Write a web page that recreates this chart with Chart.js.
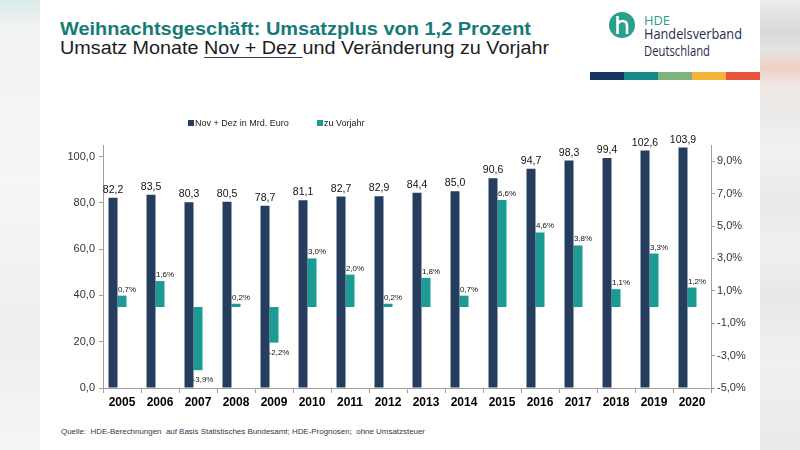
<!DOCTYPE html>
<html>
<head>
<meta charset="utf-8">
<script src="https://cdn.jsdelivr.net/npm/chart.js@4.4.1/dist/chart.umd.min.js"></script>
<style>
  html, body { margin: 0; padding: 0; width: 800px; height: 450px; overflow: hidden; background: #fff; }
  #wrap { position: relative; width: 800px; height: 450px; font-family: "Liberation Sans", Arial, sans-serif; }
  .edge-l { position: absolute; left: 0; top: 0; width: 40px; height: 450px;
    background: linear-gradient(180deg, #d9ebe9 0%, #f2f2f2 6%, #f6f6f6 40%, #eeeeee 75%, #f5f5f5 100%); }
  .edge-r { position: absolute; left: 760px; top: 0; width: 40px; height: 450px;
    background: linear-gradient(180deg, #ececec 0%, #d9d9d9 7%, #e4e4e4 11%, #f0cfc6 15%, #f1e7e4 19%, #ebebeb 26%, #f1f1f1 34%, #e9e9e9 45%, #f0f0f0 55%, #e8e8e8 66%, #f0f0f0 80%, #eaeaea 100%); }
  .txt { position: absolute; white-space: nowrap; line-height: 1; transform-origin: 0 50%; }
  #title { left: 60px; top: 20px; font-size: 18px; font-weight: bold; color: #167b77; }
  #sub { left: 60px; top: 39px; font-size: 18.5px; color: #1c1c24; }
  #sub span { text-decoration: underline; text-decoration-color: #2f3e55; text-underline-offset: 3px; }
  #hde { left: 644px; top: 15px; font-size: 12px; color: #25a08e; font-family: "Open Sans", sans-serif; }
  #hv { left: 644px; top: 27px; font-size: 14px; color: #1f2d4a; font-family: "Open Sans", sans-serif; }
  #dl { left: 644px; top: 44px; font-size: 14px; color: #1f2d4a; font-family: "Open Sans", sans-serif; }
  #src { left: 61px; top: 428px; font-size: 8px; color: #2d3a4f; }
  .stripe { position: absolute; top: 72px; height: 8px; width: 34px; }
  #logo { position: absolute; left: 608px; top: 11px; }
  canvas { position: absolute; left: 0; top: 0; }
</style>
</head>
<body>
<div id="wrap">
  <div class="edge-l"></div>
  <div class="edge-r"></div>
  <div id="title" class="txt" data-w="471">Weihnachtsgeschäft: Umsatzplus von 1,2 Prozent</div>
  <div id="sub" class="txt" data-w="489">Umsatz Monate <span>Nov + Dez </span>und Veränderung zu Vorjahr</div>
  <svg id="logo" width="28" height="28" viewBox="0 0 28 28">
    <circle cx="14" cy="14" r="13" fill="#27a08e"/>
    <path d="M9.5 5 V23 M9.5 15 Q9.5 10 14.5 10 Q19 10 19 15 V23" stroke="#fff" stroke-width="2.6" fill="none"/>
  </svg>
  <div id="hde" class="txt" data-w="26">HDE</div>
  <div id="hv" class="txt" data-w="98">Handelsverband</div>
  <div id="dl" class="txt" data-w="66">Deutschland</div>
  <div class="stripe" style="left:590px;background:#17365e"></div>
  <div class="stripe" style="left:624px;background:#16888a"></div>
  <div class="stripe" style="left:658px;background:#7db47c"></div>
  <div class="stripe" style="left:692px;background:#f5b53c"></div>
  <div class="stripe" style="left:726px;background:#e6553a"></div>
  <div id="src" class="txt" data-w="364">Quelle:&nbsp; HDE-Berechnungen&nbsp; auf Basis Statistisches Bundesamt; HDE-Prognosen;&nbsp; ohne Umsatzsteuer</div>
  <canvas id="chart" width="800" height="450"></canvas>
</div>
<script>
// data
const years = ['2005', '2006', '2007', '2008', '2009', '2010', '2011', '2012',
  '2013', '2014', '2015', '2016', '2017', '2018', '2019', '2020'];
const umsatz = [82.2, 83.5, 80.3, 80.5, 78.7, 81.1, 82.7, 82.9, 84.4, 85.0, 90.6, 94.7, 98.3, 99.4, 102.6, 103.9];
const vorjahr = [0.7, 1.6, -3.9, 0.2, -2.2, 3.0, 2.0, 0.2, 1.8, 0.7, 6.6, 4.6, 3.8, 1.1, 3.3, 1.2];
const leftTicks = [0, 20, 40, 60, 80, 100];
const rightTicks = [-5, -3, -1, 1, 3, 5, 7, 9];

const NAVY = '#253d5f';
const TEAL = '#1c9a94';
const AXIS = '#a0a0a0';
const comma = (v, d) => v.toFixed(d).replace('.', ',');

// squeeze the html texts to the widths in the slide
document.querySelectorAll('.txt').forEach(el => {
  const w = parseFloat(el.dataset.w);
  const r = el.getBoundingClientRect().width;
  el.style.transform = 'scaleX(' + (w / r) + ')';
});

// legend drawn by hand, left of centre like the slide
const legendPlugin = {
  id: 'slideLegend',
  afterDraw(chart) {
    const ctx = chart.ctx;
    const items = [
      { x: 188, text: chart.data.datasets[0].label, color: NAVY },
      { x: 317, text: chart.data.datasets[1].label, color: TEAL }
    ];
    ctx.save();
    ctx.font = '9px "Liberation Sans", Arial, sans-serif';
    ctx.textBaseline = 'middle';
    items.forEach(it => {
      ctx.fillStyle = it.color;
      ctx.fillRect(it.x, 120, 6, 6);
      ctx.fillStyle = '#222';
      ctx.fillText(it.text, it.x + 7, 123.5);
    });
    ctx.restore();
  }
};

// value labels
const labelPlugin = {
  id: 'valueLabels',
  afterDatasetsDraw(chart) {
    const ctx = chart.ctx;
    ctx.save();
    ctx.fillStyle = '#111';
    ctx.textBaseline = 'alphabetic';
    ctx.font = '10.5px "Liberation Sans", Arial, sans-serif';
    ctx.textAlign = 'center';
    chart.getDatasetMeta(0).data.forEach((el, i) => {
      ctx.fillText(comma(umsatz[i], 1), el.x, el.y - 5);
    });
    ctx.font = '8px "Liberation Sans", Arial, sans-serif';
    chart.getDatasetMeta(1).data.forEach((el, i) => {
      const v = vorjahr[i];
      const y = v >= 0 ? el.y - 4 : el.y + 12;
      ctx.fillText(comma(v, 1) + '%', el.x + 5, y);
    });
    ctx.restore();
  }
};

new Chart(document.getElementById('chart'), {
  type: 'bar',
  data: {
    labels: years,
    datasets: [{
      label: 'Nov + Dez in Mrd. Euro',
      data: umsatz,
      backgroundColor: NAVY,
      yAxisID: 'y',
      categoryPercentage: 0.71,
      barPercentage: 1
    },
    {
      label: 'zu Vorjahr',
      data: vorjahr,
      backgroundColor: TEAL,
      yAxisID: 'y2',
      categoryPercentage: 0.71,
      barPercentage: 1
    },
    {
      // empty slot, keeps the pair left of the category centre as in the slide
      label: '',
      data: years.map(() => null),
      yAxisID: 'y2',
      categoryPercentage: 0.71,
      barPercentage: 1
    }]
  },
  options: {
    responsive: false,
    animation: false,
    layout: { padding: { left: 40, right: 40, top: 145, bottom: 38 } },
    plugins: {
      legend: { display: false },
      tooltip: { enabled: false }
    },
    scales: {
      x: {
        grid: { drawOnChartArea: false, drawTicks: true, tickLength: 5, color: AXIS, offset: true },
        border: { color: AXIS },
        ticks: {
          color: '#000',
          padding: 2,
          maxRotation: 0,
          autoSkip: false,
          font: { family: '"Liberation Sans", Arial, sans-serif', size: 12, weight: 'bold' }
        },
        afterFit: s => { s.height = 24; }
      },
      y: {
        position: 'left',
        min: 0,
        max: 105,
        afterBuildTicks: s => { s.ticks = leftTicks.map(v => ({ value: v })); },
        grid: { drawOnChartArea: false, tickLength: 4, color: AXIS },
        border: { color: AXIS },
        ticks: {
          color: '#333',
          padding: 4,
          font: { family: '"Liberation Sans", Arial, sans-serif', size: 11 },
          callback: v => comma(v, 1)
        },
        afterFit: s => { s.width = 63; }
      },
      y2: {
        position: 'right',
        min: -5,
        max: 10,
        afterBuildTicks: s => { s.ticks = rightTicks.map(v => ({ value: v })); },
        grid: { drawOnChartArea: false, tickLength: 4, color: AXIS },
        border: { color: AXIS },
        ticks: {
          color: '#333',
          padding: 2,
          font: { family: '"Liberation Sans", Arial, sans-serif', size: 11 },
          callback: v => comma(v, 1) + '%'
        },
        afterFit: s => { s.width = 49; }
      }
    }
  },
  plugins: [legendPlugin, labelPlugin]
});
</script>
</body>
</html>
